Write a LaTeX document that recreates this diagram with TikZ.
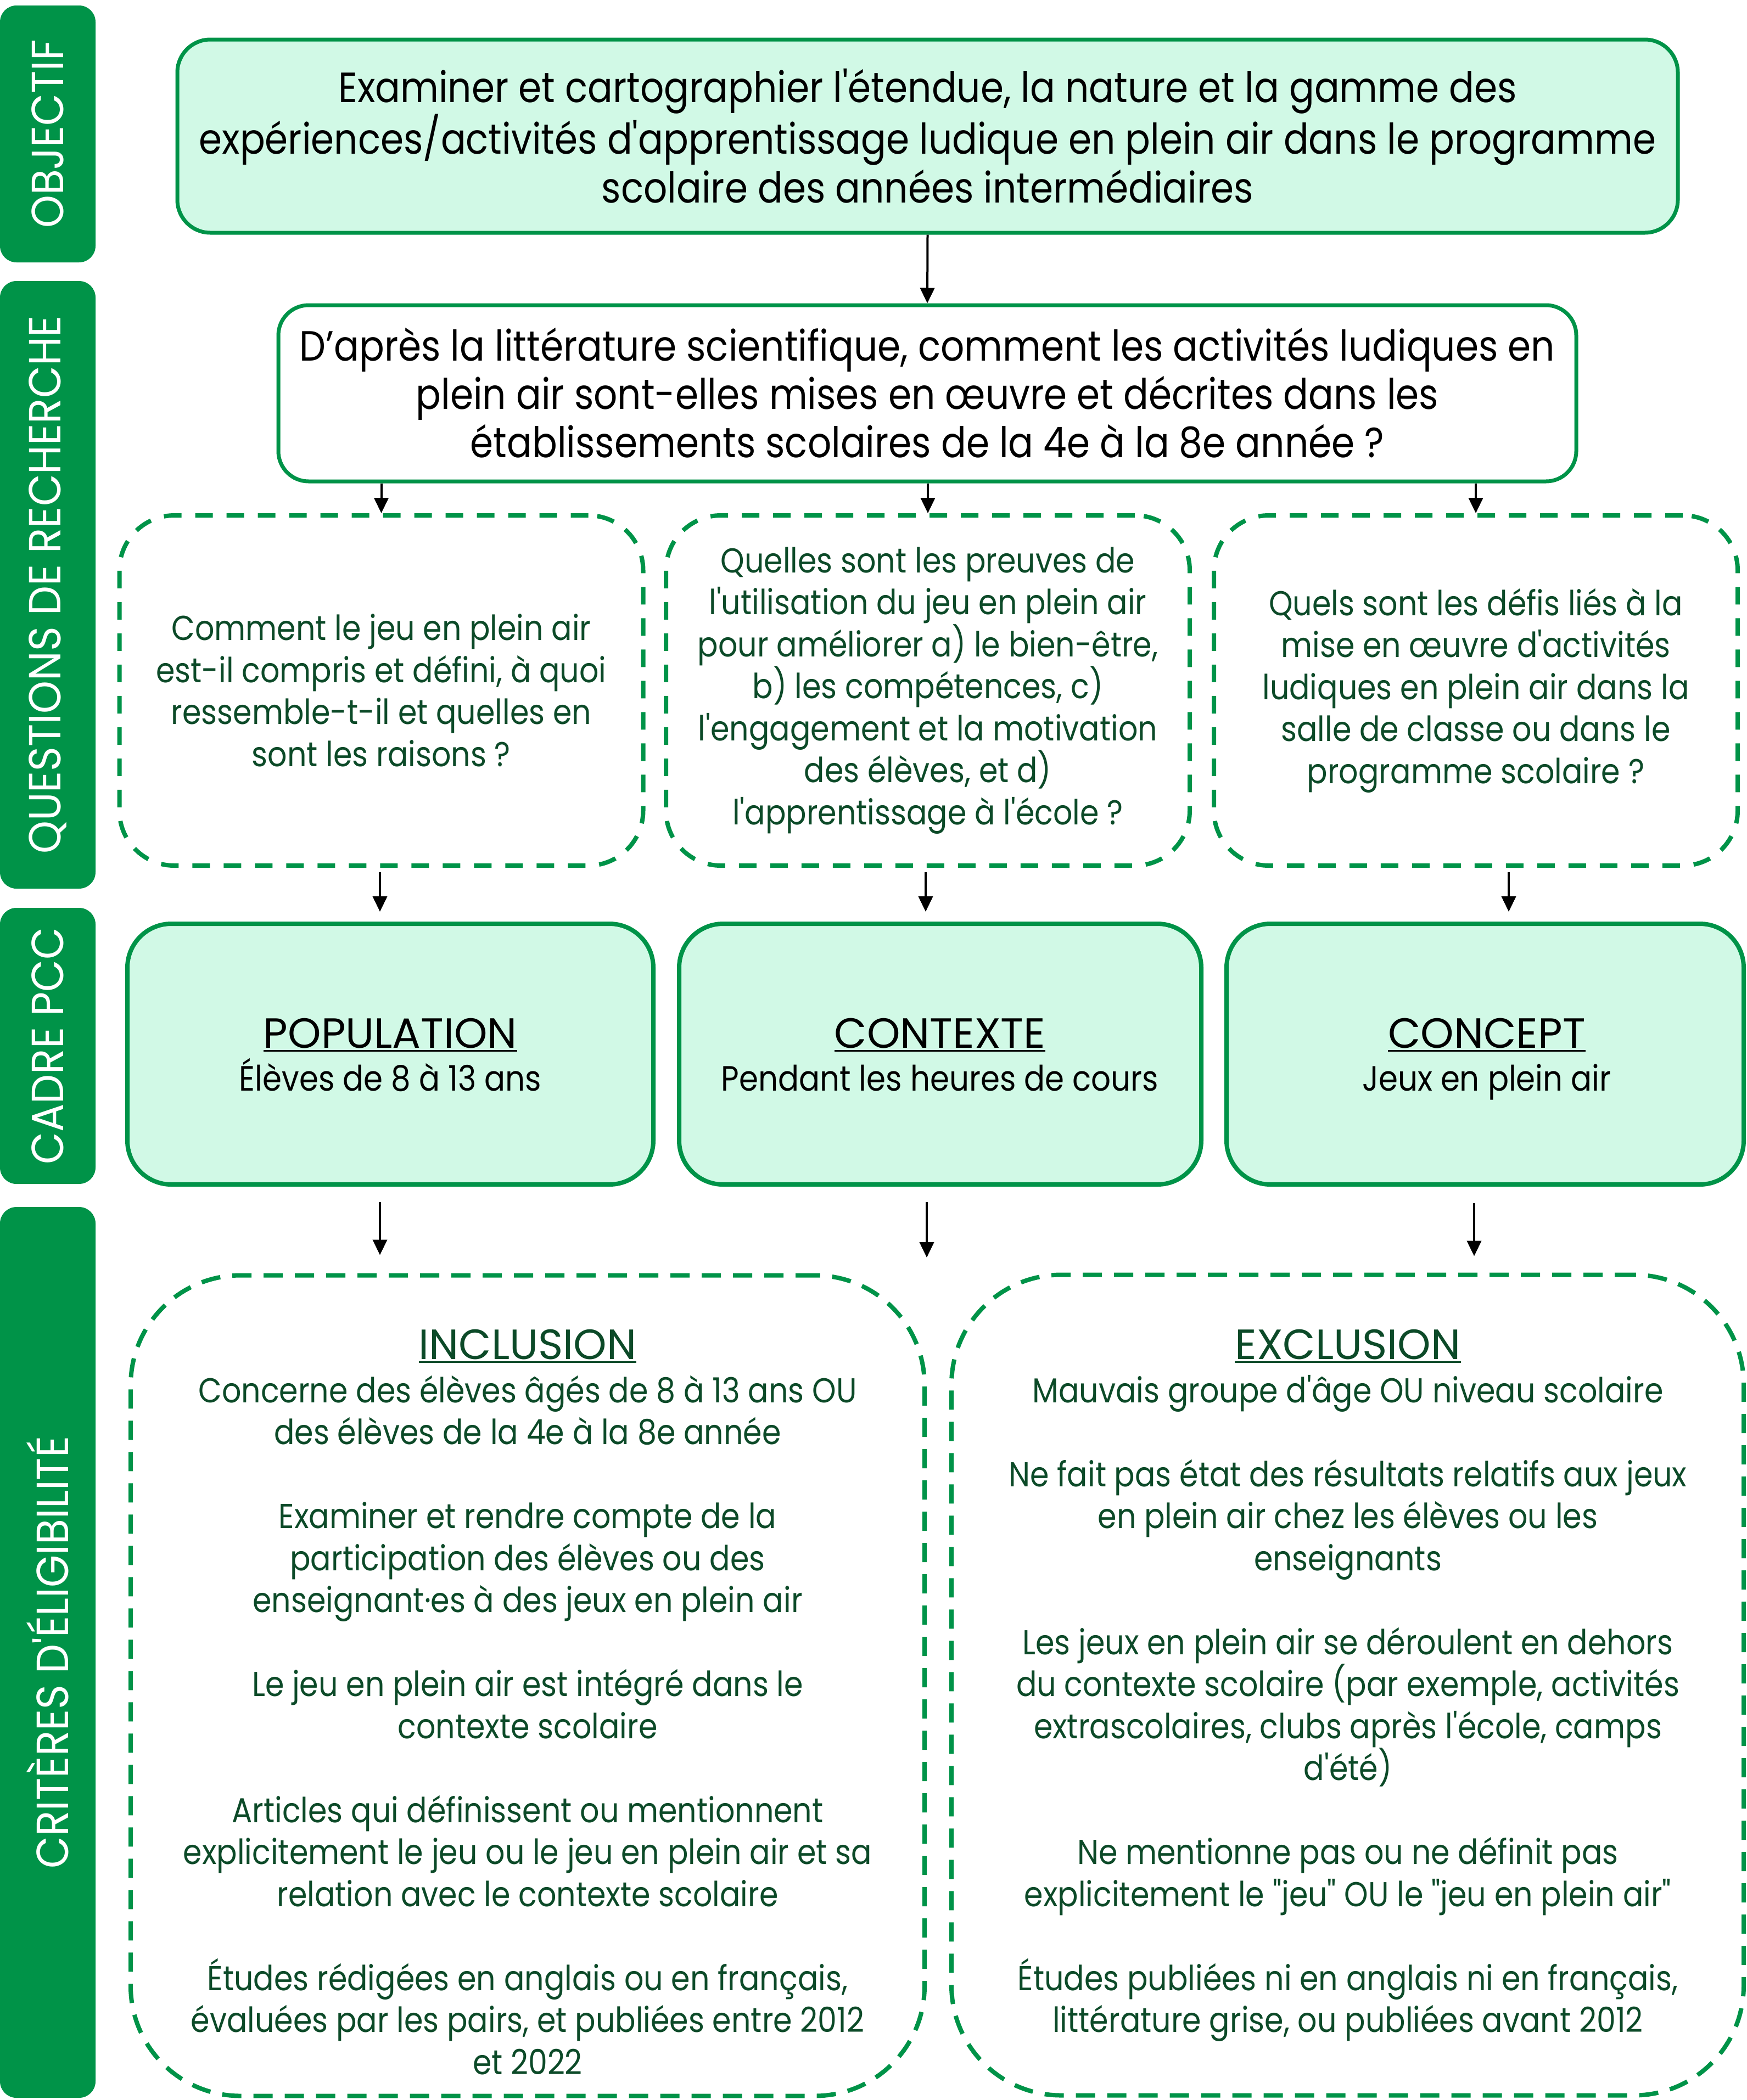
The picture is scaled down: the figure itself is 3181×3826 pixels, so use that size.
\documentclass[tikz,border=0pt]{standalone}
\usepackage{fontspec}
\setmainfont{Poppins}[Ligatures=TeXOff]
\newfontfamily\nf{Poppins}[Ligatures=TeXOff,FakeStretch=0.88]
\newfontfamily\barfont{Poppins}[Ligatures=TeXOff,FakeStretch=0.93]
\usetikzlibrary{arrows.meta}
\definecolor{gr}{HTML}{009348}
\definecolor{mint}{HTML}{D1F9E6}
\definecolor{dg}{HTML}{0C4A28}
\begin{document}
\begin{tikzpicture}[x=1pt,y=-1pt,
  bar/.style={fill=gr, draw=none, rounded corners=30pt, rotate=90, minimum height=174pt, inner sep=0pt, text=white, font={\barfont\fontsize{82pt}{90pt}\selectfont}},
  solidbox/.style={draw=gr, line width=7pt, align=center, inner sep=0pt},
  qbox/.style={draw=gr, line width=8pt, dash pattern=on 32pt off 25pt, rounded corners=100pt, align=center, inner sep=0pt, text=dg, minimum width=954pt, minimum height=638pt, font={\nf\fontsize{63pt}{76.5pt}\selectfont}},
  pccbox/.style={draw=gr, fill=mint, line width=8pt, rounded corners=80pt, minimum height=475pt, inner sep=0pt},
  critbox/.style={draw=gr, line width=8pt, dash pattern=on 35pt off 22pt, rounded corners=200pt, minimum height=1495pt, inner sep=0pt},
  head/.style={font={\rmfamily\fontsize{77pt}{89pt}\selectfont}, inner sep=0pt, anchor=base},
  sub/.style={font={\nf\fontsize{64pt}{76.5pt}\selectfont}, inner sep=0pt, anchor=base},
  body/.style={font={\nf\fontsize{63pt}{76.5pt}\selectfont}, inner sep=0pt, anchor=base, align=center, text=dg},
  uline/.style={line width=3pt},
  arr/.style={-{Triangle[length=28pt,width=26pt]}, line width=4pt, black}
]
\useasboundingbox (0,0) rectangle (3181,3826);

% left bars
\node[bar, minimum width=468pt] (b1) at (87,244) {OBJECTIF};
\node[bar, minimum width=1107pt] (b2) at (87,1065.5) {QUESTIONS DE RECHERCHE};
\node[bar, minimum width=503pt] (b3) at (87,1905.5) {CADRE PCC};
\node[bar, minimum width=1623pt] (b4) at (87,3010.5) {CRITÈRES D'ÉLIGIBILITÉ};

% objective
\node[solidbox, fill=mint, rounded corners=60pt, minimum width=2733pt, minimum height=352pt,
  font={\nf\fontsize{77pt}{89pt}\selectfont}] (obj) at (1689.5,248)
  {Examiner et cartographier l'étendue, la nature et la gamme des\\
   expériences/activités d'apprentissage ludique en plein air dans le programme\\
   scolaire des années intermédiaires};

% research question
\node[solidbox, fill=white, rounded corners=55pt, minimum width=2364pt, minimum height=321pt,
  font={\nf\fontsize{77pt}{88pt}\selectfont}] (rq) at (1689,716.5)
  {D’après la littérature scientifique, comment les activités ludiques en\\
   plein air sont-elles mises en œuvre et décrites dans les\\
   établissements scolaires de la 4e à la 8e année ?};

% sub-questions
\node[qbox] (q1) at (694.5,1258)
  {Comment le jeu en plein air\\ est-il compris et défini, à quoi\\ ressemble-t-il et quelles en\\ sont les raisons ?};
\node[qbox] (q2) at (1690,1258)
  {Quelles sont les preuves de\\ l'utilisation du jeu en plein air\\ pour améliorer a) le bien-être,\\ b) les compétences, c)\\ l'engagement et la motivation\\ des élèves, et d)\\ l'apprentissage à l'école ?};
\node[qbox] (q3) at (2688,1258)
  {Quels sont les défis liés à la\\ mise en œuvre d'activités\\ ludiques en plein air dans la\\ salle de classe ou dans le\\ programme scolaire ?};

% PCC
\node[pccbox, minimum width=958pt] (pop) at (711,1920.5) {};
\node[pccbox, minimum width=951pt] (ctx) at (1712.5,1920.5) {};
\node[pccbox, minimum width=942pt] (con) at (2705,1920.5) {};
\node[head] (popt) at (711,1909) {POPULATION};
\node[sub] (pops) at (711,1987) {Élèves de 8 à 13 ans};
\node[head] (ctxt) at (1712,1909) {CONTEXTE};
\node[sub] (ctxs) at (1712,1987) {Pendant les heures de cours};
\node[head] (cont) at (2708,1909) {CONCEPT};
\node[sub] (cons) at (2708,1987) {Jeux en plein air};
\foreach \n in {popt,ctxt,cont}
  \draw[uline] ([yshift=-5pt]\n.base west) -- ([yshift=-5pt]\n.base east);

% criteria
\node[critbox, minimum width=1446pt] (inc) at (961,3071) {};
\node[critbox, minimum width=1443pt] (exc) at (2454.5,3070) {};
\node[head, text=dg] (inct) at (961,2476) {INCLUSION};
\node[head, text=dg] (exct) at (2455,2476) {EXCLUSION};
\foreach \n in {inct,exct}
  \draw[uline, dg] ([yshift=-5pt]\n.base west) -- ([yshift=-5pt]\n.base east);
\node[body] (incb) at (961,3779)
  {Concerne des élèves âgés de 8 à 13 ans OU\\
   des élèves de la 4e à la 8e année\\[76.5pt]
   Examiner et rendre compte de la\\
   participation des élèves ou des\\
   enseignant·es à des jeux en plein air\\[76.5pt]
   Le jeu en plein air est intégré dans le\\
   contexte scolaire\\[76.5pt]
   Articles qui définissent ou mentionnent\\
   explicitement le jeu ou le jeu en plein air et sa\\
   relation avec le contexte scolaire\\[76.5pt]
   Études rédigées en anglais ou en français,\\
   évaluées par les pairs, et publiées entre 2012\\
   et 2022};
\node[body] (excb) at (2455,3702.5)
  {Mauvais groupe d'âge OU niveau scolaire\\[76.5pt]
   Ne fait pas état des résultats relatifs aux jeux\\
   en plein air chez les élèves ou les\\
   enseignants\\[76.5pt]
   Les jeux en plein air se déroulent en dehors\\
   du contexte scolaire (par exemple, activités\\
   extrascolaires, clubs après l'école, camps\\
   d'été)\\[76.5pt]
   Ne mentionne pas ou ne définit pas\\
   explicitement le "jeu" OU le "jeu en plein air"\\[76.5pt]
   Études publiées ni en anglais ni en français,\\
   littérature grise, ou publiées avant 2012};

% arrows
\draw[arr] (obj.south) -- (rq.north);
\foreach \q in {q1,q2,q3}
  \draw[arr] (rq.south -| \q.north) -- (\q.north);
\coordinate (a1) at (692,0);
\coordinate (a2) at (1686,0);
\coordinate (a3) at (2748,0);
\draw[arr, shorten <=8pt, shorten >=18pt] (q1.south -| a1) -- (pop.north -| a1);
\draw[arr, shorten <=8pt, shorten >=18pt] (q2.south -| a2) -- (ctx.north -| a2);
\draw[arr, shorten <=8pt, shorten >=18pt] (q3.south -| a3) -- (con.north -| a3);
\coordinate (d1) at (692,0);
\coordinate (d2) at (1688,2291);
\coordinate (d3) at (2685,0);
\draw[arr, shorten <=28pt, shorten >=33pt] (pop.south -| d1) -- (inc.north -| d1);
\draw[arr, shorten <=28pt] (ctx.south -| d2) -- (d2);
\draw[arr, shorten <=30pt, shorten >=30pt] (con.south -| d3) -- (exc.north -| d3);
\end{tikzpicture}
\end{document}
